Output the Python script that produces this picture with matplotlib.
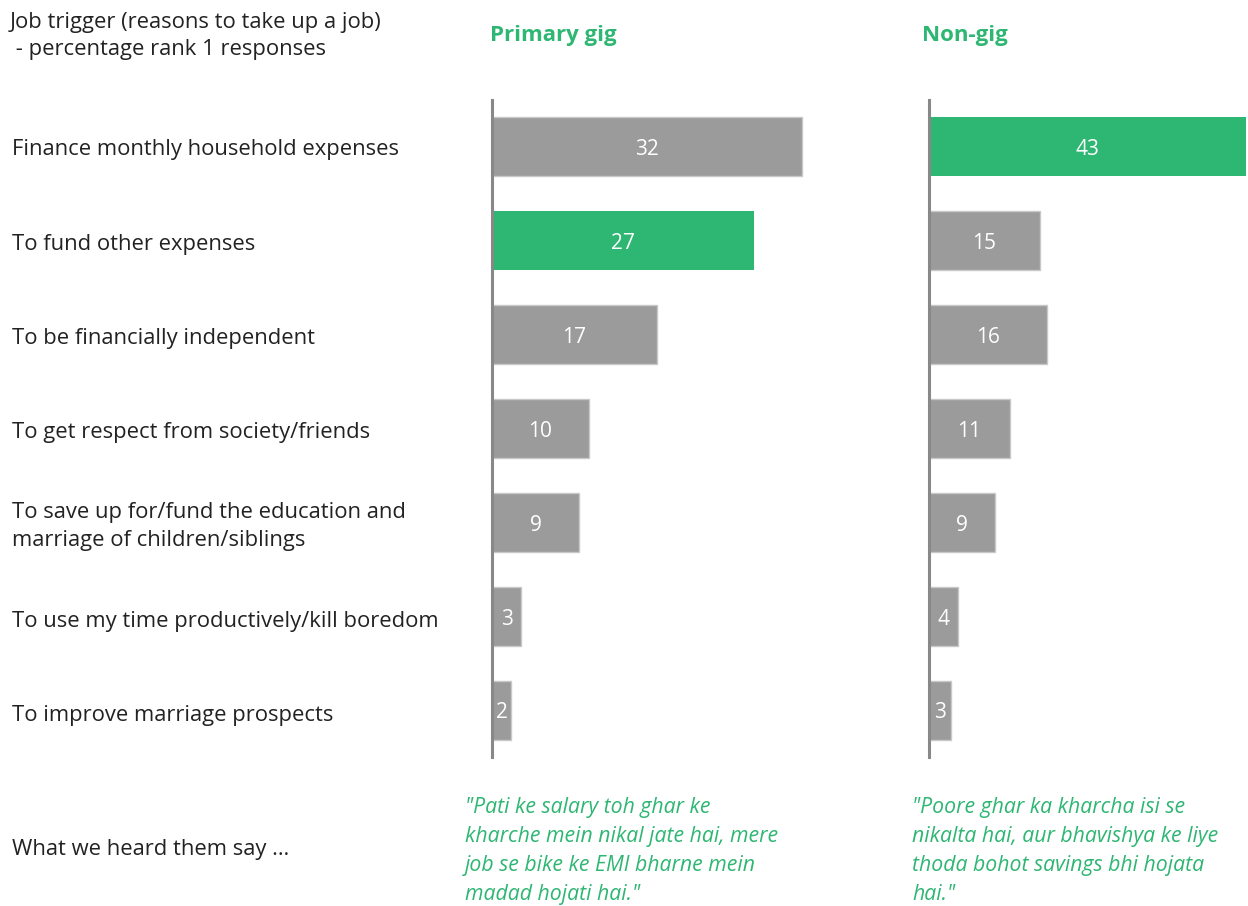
import matplotlib
matplotlib.use("Agg")
import matplotlib.pyplot as plt

# data
reasons = ['Finance monthly household expenses',
           'To fund other expenses',
           'To be financially independent',
           'To get respect from society/friends',
           'To save up for/fund the education and\nmarriage of children/siblings',
           'To use my time productively/kill boredom',
           'To improve marriage prospects']
primary_gig = [32, 27, 17, 10, 9, 3, 2]
non_gig = [43, 15, 16, 11, 9, 4, 3]
primary_top = 1   # highlighted bar index
non_gig_top = 0

quote_primary = '"Pati ke salary toh ghar ke\nkharche mein nikal jate hai, mere\njob se bike ke EMI bharne mein\nmadad hojati hai."'
quote_non_gig = '"Poore ghar ka kharcha isi se\nnikalta hai, aur bhavishya ke liye\nthoda bohot savings bhi hojata\nhai."'

W, H = 1248, 906
GREEN = '#2eb673'
GREY = '#9b9b9b'
plt.rcParams['font.family'] = ['Open Sans', 'DejaVu Sans']

fig = plt.figure(figsize=(W / 100, H / 100), dpi=100)


def fx(x):
    return x / W


def fy(y):
    return 1 - y / H


def draw_panel(left_px, width_px, px_per_unit, values, top):
    ax = fig.add_axes([fx(left_px), fy(757), width_px / W, 657 / H])
    cols = [GREEN if i == top else GREY for i in range(len(values))]
    ax.barh(range(len(values)), values, height=0.63, color=cols,
            edgecolor=['none' if i == top else '#c8c8c8' for i in range(len(values))],
            linewidth=1)
    for i, v in enumerate(values):
        ax.text(v / 2, i + 0.03, str(v), ha='center', va='center', color='white', fontsize=15)
    ax.set_xlim(0, width_px / px_per_unit)
    ax.set_ylim(len(values) - 0.5, -0.5)
    for s in ['top', 'right', 'bottom']:
        ax.spines[s].set_visible(False)
    ax.spines['left'].set_color('#888888')
    ax.spines['left'].set_linewidth(2.2)
    ax.set_xticks([])
    ax.set_yticks([])
    ax.patch.set_alpha(0)
    return ax


draw_panel(492, 400, 9.69, primary_gig, primary_top)
draw_panel(929, 319, 7.37, non_gig, non_gig_top)

# category labels
for i, r in enumerate(reasons):
    fig.text(fx(12), fy(150 + 94.2 * i), r, ha='left', va='center', fontsize=15.8,
             color='#222222', linespacing=1.45)

fig.text(fx(10), fy(36), 'Job trigger (reasons to take up a job)\n - percentage rank 1 responses',
         ha='left', va='center', fontsize=15.8, color='#222222', linespacing=1.4)
fig.text(fx(490), fy(36), 'Primary gig', ha='left', va='center', fontsize=16,
         fontweight='bold', color=GREEN)
fig.text(fx(922), fy(36), 'Non-gig', ha='left', va='center', fontsize=16,
         fontweight='bold', color=GREEN)

fig.text(fx(12), fy(850), 'What we heard them say …', ha='left', va='center', fontsize=15.8,
         color='#222222')
fig.text(fx(465), fy(851), quote_primary, ha='left', va='center', fontsize=15.3,
         style='italic', color=GREEN, linespacing=1.5)
fig.text(fx(912), fy(851), quote_non_gig, ha='left', va='center', fontsize=15.3,
         style='italic', color=GREEN, linespacing=1.5)

fig.savefig('out.png', dpi=100)
